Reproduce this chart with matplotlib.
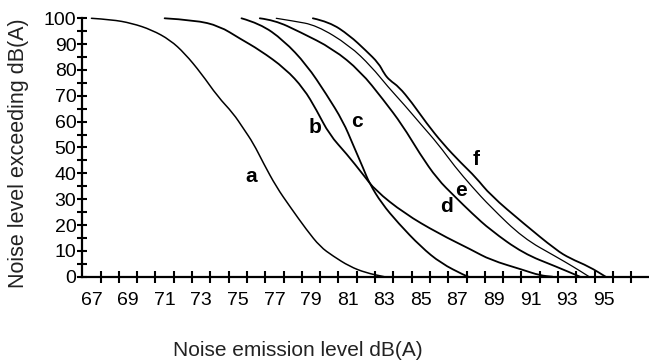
import matplotlib
matplotlib.use("Agg")
import matplotlib.pyplot as plt
from matplotlib.path import Path
from matplotlib.patches import PathPatch
from matplotlib.ticker import FixedLocator, NullFormatter

# curves: noise level dB(A) vs % exceeding
a_x = [67.0, 68.1, 69.2, 70.3, 71.3, 72.1, 73.0, 73.9, 74.75, 75.3, 75.85, 76.4, 77.1, 77.85, 78.76, 79.5, 80.2, 81.1, 82.0, 83.0]
a_y = [100, 99.5, 98.1, 95.5, 91.6, 86.4, 78.7, 69.7, 63.2, 57.4, 51.6, 43.9, 34.8, 27.1, 18.1, 11.6, 8.0, 4.0, 1.5, 0]

b_x = [71.0, 72.65, 74.0, 75.1, 76.2, 77.6, 78.6, 79.3, 80.0, 80.95, 81.85, 82.5, 84.1, 85.95, 87.8, 88.8, 90.6, 91.5, 92.2]
b_y = [100, 99.3, 97.0, 92.2, 87.7, 80.5, 72.8, 64.5, 55.0, 47.5, 39.5, 33.5, 24.5, 16.8, 10.3, 6.5, 2.6, 0.5, 0]

c_x = [75.2, 76.2, 77.5, 78.76, 79.85, 80.76, 81.3, 81.85, 82.2, 82.86, 83.77, 85.0, 86.1, 87.4, 87.6]
c_y = [100, 98.0, 91.5, 82.0, 70.5, 60.0, 51.0, 42.0, 36.0, 28.4, 20.7, 11.6, 5.2, 0.5, 0]

d_x = [76.2, 77.0, 78.4, 80.2, 81.7, 82.95, 84.0, 84.95, 85.9, 86.86, 87.8, 88.8, 90.6, 92.4, 93.7]
d_y = [100, 99.3, 94.7, 88.2, 79.5, 68.5, 58.6, 47.5, 37.8, 31.0, 24.5, 18.1, 9.0, 3.9, 0]

e_x = [77.1, 78.0, 79.3, 81.1, 82.3, 83.2, 84.1, 85.0, 85.95, 86.86, 87.8, 88.8, 90.6, 92.4, 93.3, 94.2]
e_y = [100, 99.0, 97.3, 89.5, 81.3, 73.5, 66.5, 59.0, 51.3, 42.6, 34.8, 27.1, 14.9, 7.7, 4.0, 0]

f_x = [79.1, 80.0, 81.1, 82.0, 82.7, 83.0, 83.3, 83.8, 84.5, 85.3, 86.2, 87.2, 88.0, 88.8, 90.6, 92.4, 93.15, 94.2, 95.1]
f_y = [100, 98.6, 93.4, 87.5, 82.6, 78.5, 76.0, 73.5, 67.5, 59.5, 51.5, 44.0, 38.5, 31.6, 20.7, 10.3, 7.1, 3.9, 0]

curve_names = ["a", "b", "c", "d", "e", "f"]
name_x = [75.75, 79.2, 81.5, 86.4, 87.2, 88.0]
name_y = [38.7, 57.9, 60.1, 27.1, 33.5, 45.2]

x_labels = [67, 69, 71, 73, 75, 77, 79, 81, 83, 85, 87, 89, 91, 93, 95]
y_labels = [0, 10, 20, 30, 40, 50, 60, 70, 80, 90, 100]

narrow = ["Liberation Sans Narrow", "Liberation Sans", "DejaVu Sans"]


def smooth_path(xs, ys):
    # quadratic bezier through the midpoints, read points act as control points
    pts = list(zip(xs, ys))
    verts = [pts[0]]
    codes = [Path.MOVETO]
    for i in range(1, len(pts) - 1):
        mid = ((pts[i][0] + pts[i + 1][0]) / 2, (pts[i][1] + pts[i + 1][1]) / 2)
        verts += [pts[i], mid]
        codes += [Path.CURVE3, Path.CURVE3]
    verts.append(pts[-1])
    codes.append(Path.LINETO)
    return Path(verts, codes)


fig = plt.figure(figsize=(6.49, 3.62), dpi=100)
ax = fig.add_axes([82.3 / 649, 1 - 276.7 / 362, 1 - 82.3 / 649, (276.7 - 18.3) / 362])

curves = [(a_x, a_y), (b_x, b_y), (c_x, c_y), (d_x, d_y), (e_x, e_y), (f_x, f_y)]
widths = [1.1, 1.3, 1.3, 1.3, 0.9, 1.3]
for (xs, ys), lw in zip(curves, widths):
    ax.add_patch(PathPatch(smooth_path(xs, ys), fill=False, edgecolor="black",
                           lw=lw, capstyle="round", joinstyle="round", clip_on=False))

for name, tx, ty in zip(curve_names, name_x, name_y):
    ax.text(tx, ty, name, family=narrow, fontweight="bold", fontsize=15,
            ha="center", va="center", color="black")

ax.set_xlim(66.5, 97.47)
ax.set_ylim(0, 100)

for s in ["top", "right"]:
    ax.spines[s].set_visible(False)
ax.spines["left"].set_linewidth(1.6)
ax.spines["bottom"].set_linewidth(1.6)

# x: tick marks between the labels, labels on odd values
ax.xaxis.set_major_locator(FixedLocator(x_labels))
ax.set_xticklabels([str(v) for v in x_labels], family=narrow, fontsize=14)
ax.xaxis.set_minor_locator(FixedLocator([v + 0.5 for v in range(67, 97)]))
ax.tick_params(axis="x", which="major", length=0, pad=11)
ax.tick_params(axis="x", which="minor", direction="inout", length=8.5, width=1.5)

ax.yaxis.set_major_locator(FixedLocator(y_labels))
ax.set_yticklabels([str(v) for v in y_labels], family=narrow, fontsize=14)
ax.yaxis.set_minor_locator(FixedLocator([v + 5 for v in y_labels[:-1]]))
ax.yaxis.set_minor_formatter(NullFormatter())
ax.tick_params(axis="y", which="both", direction="inout", length=7.5, width=1.5, pad=0.5)

fig.text(19 / 649, 1 - 153 / 362, "Noise level exceeding dB(A)", rotation=90,
         family="Liberation Sans", fontsize=15.5, color="#222222", ha="center", va="center")
fig.text(298 / 649, 1 - 350 / 362, "Noise emission level dB(A)",
         family="Liberation Sans", fontsize=15, color="#222222", ha="center", va="center")

fig.savefig("out.png", dpi=100)
